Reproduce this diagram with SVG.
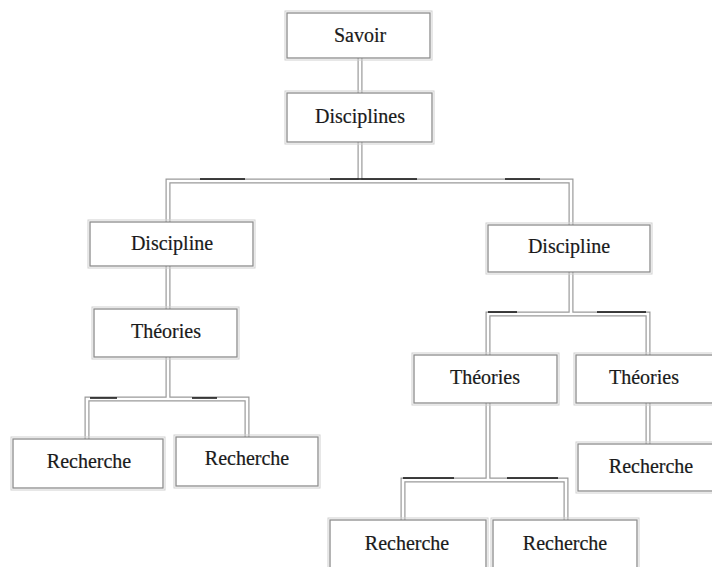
<svg xmlns="http://www.w3.org/2000/svg" width="712" height="567" viewBox="0 0 712 567">
<style>
  .co { fill: none; stroke: #9a9a9a; stroke-width: 5; stroke-linejoin: miter; }
  .ci { fill: none; stroke: #ffffff; stroke-width: 2.6; stroke-linejoin: miter; }
  .dk { fill: none; stroke: #111; stroke-width: 1.3; }
  .bx { fill: #ffffff; stroke: #8c8c8c; stroke-width: 1.3; }
  .bi { fill: none; stroke: #d0d0d0; stroke-width: 1; }
  .t { font-family: "Liberation Serif", "Times New Roman", serif; font-size: 20px; fill: #1a1a1a; stroke: #1a1a1a; stroke-width: 0.2; text-anchor: middle; }
</style>
<rect width="712" height="567" fill="#ffffff"/>
<g id="connectors">
  <path class="co" d="M360,58 V181 M168,222 V181 H571 V225"/>
  <path class="co" d="M168,266 V309 M168,357 V399 M87,439 V399 H247 V437"/>
  <path class="co" d="M571,272 V314 M488,355 V314 H648 V355 M488,403 V480 M403,520 V480 H566 V520 M648,403 V444"/>
  <path class="ci" d="M360,58 V181 M168,222 V181 H571 V225"/>
  <path class="ci" d="M168,266 V309 M168,357 V399 M87,439 V399 H247 V437"/>
  <path class="ci" d="M571,272 V314 M488,355 V314 H648 V355 M488,403 V480 M403,520 V480 H566 V520 M648,403 V444"/>
  <path class="dk" d="M200,179 H245 M330,179 H417 M505,179 H540 M90,398 H117 M192,398 H217 M488,312 H517 M597,312 H646 M403,478 H454 M507,478 H558"/>
</g>
<g id="n-savoir">
  <rect class="bx" x="287" y="13" width="143" height="45"/>
  <rect class="bi" x="285" y="11" width="147" height="49"/>
  <text class="t" x="360" y="42">Savoir</text>
</g>
<g id="n-disciplines">
  <rect class="bx" x="287" y="93" width="145" height="49"/>
  <rect class="bi" x="285" y="91" width="149" height="53"/>
  <text class="t" x="360" y="123">Disciplines</text>
</g>
<g id="n-discipline-left">
  <rect class="bx" x="90" y="222" width="163" height="44"/>
  <rect class="bi" x="88" y="220" width="167" height="48"/>
  <text class="t" x="172" y="250">Discipline</text>
</g>
<g id="n-theories-left">
  <rect class="bx" x="94" y="309" width="143" height="48"/>
  <rect class="bi" x="92" y="307" width="147" height="52"/>
  <text class="t" x="166" y="338">Théories</text>
</g>
<g id="n-recherche-1">
  <rect class="bx" x="13" y="439" width="150" height="49"/>
  <rect class="bi" x="11" y="437" width="154" height="53"/>
  <text class="t" x="89" y="468">Recherche</text>
</g>
<g id="n-recherche-2">
  <rect class="bx" x="176" y="437" width="142" height="49"/>
  <rect class="bi" x="174" y="435" width="146" height="53"/>
  <text class="t" x="247" y="465">Recherche</text>
</g>
<g id="n-discipline-right">
  <rect class="bx" x="488" y="225" width="162" height="47"/>
  <rect class="bi" x="486" y="223" width="166" height="51"/>
  <text class="t" x="569" y="253">Discipline</text>
</g>
<g id="n-theories-r1">
  <rect class="bx" x="414" y="355" width="143" height="48"/>
  <rect class="bi" x="412" y="353" width="147" height="52"/>
  <text class="t" x="485" y="384">Théories</text>
</g>
<g id="n-theories-r2">
  <rect class="bx" x="576" y="355" width="145" height="48"/>
  <rect class="bi" x="574" y="353" width="149" height="52"/>
  <text class="t" x="644" y="384">Théories</text>
</g>
<g id="n-recherche-3">
  <rect class="bx" x="578" y="444" width="143" height="47"/>
  <rect class="bi" x="576" y="442" width="147" height="51"/>
  <text class="t" x="651" y="473">Recherche</text>
</g>
<g id="n-recherche-4">
  <rect class="bx" x="330" y="520" width="156" height="60"/>
  <rect class="bi" x="328" y="518" width="160" height="64"/>
  <text class="t" x="407" y="550">Recherche</text>
</g>
<g id="n-recherche-5">
  <rect class="bx" x="493" y="520" width="144" height="60"/>
  <rect class="bi" x="491" y="518" width="148" height="64"/>
  <text class="t" x="565" y="550">Recherche</text>
</g>
</svg>
